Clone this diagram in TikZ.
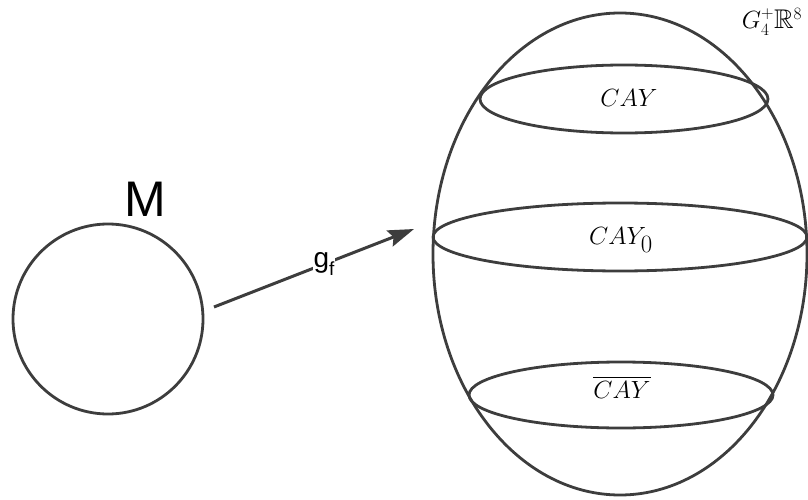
\documentclass[tikz,border=0pt]{standalone}
\usepackage{fontspec}
\usepackage{amssymb}
\newfontfamily\labelsans{Liberation Sans}
\usetikzlibrary{shapes.geometric,arrows.meta}
\definecolor{ink}{rgb}{0.24,0.24,0.24}
\begin{document}
\begin{tikzpicture}[x=1pt,y=-1pt,
  curve/.style={draw=ink,line width=2.8pt},
  oval/.style={curve,ellipse,inner sep=0pt},
  mathlbl/.style={font=\fontsize{33}{36}\selectfont,text=black,inner sep=0pt}]
\useasboundingbox (0,0) rectangle (808,500);
\node[curve,circle,minimum size=190pt,inner sep=0pt] (M) at (108,319) {};
\node[font=\labelsans\fontsize{50}{55}\selectfont,inner sep=0pt] (Mlbl) at (145,199) {M};
\node[oval,minimum width=374pt,minimum height=482pt] (G) at (620,254) {};
\node[oval,minimum width=288pt,minimum height=68pt] (cay) at (624,99) {};
\node[oval,minimum width=374pt,minimum height=68pt] (cay0) at (620,237) {};
\node[oval,minimum width=304pt,minimum height=66pt] (caybar) at (621,395) {};
\node[mathlbl] (t1) at (629,98) {$CAY$};
\node[mathlbl] (t0) at (621,240) {$CAY_0$};
\node[mathlbl] (tb) at (622,387) {$\overline{CAY}$};
\node[mathlbl,font=\fontsize{27}{30}\selectfont] (tg) at (772,22) {$G_4^+\mathbb{R}^8$};
\coordinate (a0) at (214,307);
\coordinate (a1) at (414,229);
\draw[ink,line width=3pt,-{Stealth[length=26pt,width=17pt,inset=4pt]}] (a0) -- (a1)
  node[pos=0.55,fill=white,inner sep=1pt,font=\labelsans\fontsize{28}{30}\selectfont,text=black] (gf) {g\raisebox{-0.3em}{\fontsize{19}{20}\selectfont f}};
\end{tikzpicture}
\end{document}
